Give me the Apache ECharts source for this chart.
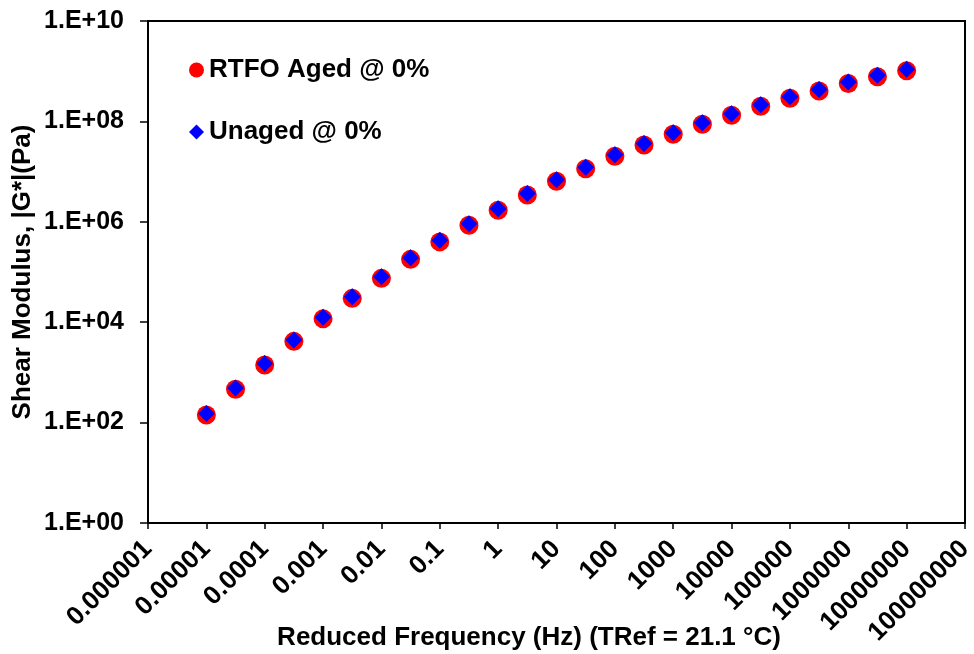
<!DOCTYPE html>
<html>
<head>
<meta charset="utf-8">
<title>Shear Modulus vs Reduced Frequency</title>
<script src="https://cdn.jsdelivr.net/npm/echarts@6/dist/echarts.min.js"></script>
<style>
  html, body { margin: 0; padding: 0; background: #fff; }
  #chart { width: 974px; height: 654px; }
</style>
</head>
<body>
<div id="chart"></div>
<script>
// Reduced frequency (Hz), half-decade steps of the master curve
const frequencyHz = [0.00001, 0.0000316, 0.0001, 0.000316, 0.001, 0.00316, 0.01, 0.0316, 0.1, 0.316,
  1, 3.16, 10, 31.6, 100, 316, 1000, 3160, 10000, 31600, 100000, 316000, 1000000, 3160000, 10000000];

// |G*| (Pa) for each binder condition
const rtfoAged = [142, 460, 1410, 4150, 11650, 29850, 74700, 178700, 398000, 851000,
  1.70e6, 3.42e6, 6.41e6, 1.14e7, 2.02e7, 3.39e7, 5.54e7, 8.77e7, 1.33e8, 2.01e8,
  2.89e8, 4.04e8, 5.67e8, 7.76e8, 1.02e9];
const unaged = [152, 491, 1510, 4440, 12500, 32000, 80000, 191500, 427000, 912000,
  1.82e6, 3.66e6, 6.87e6, 1.22e7, 2.16e7, 3.63e7, 5.94e7, 9.40e7, 1.42e8, 2.15e8,
  3.10e8, 4.33e8, 6.08e8, 8.32e8, 1.09e9];

const seriesNames = ['RTFO Aged @ 0%', 'Unaged @ 0%'];

// Tick labels, keyed by decade exponent
const xTickLabels = {
  '-6': '0.000001', '-5': '0.00001', '-4': '0.0001', '-3': '0.001', '-2': '0.01', '-1': '0.1',
  '0': '1', '1': '10', '2': '100', '3': '1000', '4': '10000', '5': '100000',
  '6': '1000000', '7': '10000000', '8': '100000000'
};
const yTickLabels = {
  '0': '1.E+00', '2': '1.E+02', '4': '1.E+04', '6': '1.E+06', '8': '1.E+08', '10': '1.E+10'
};

const xTitle = 'Reduced Frequency (Hz) (TRef = 21.1 \u00B0C)';
const yTitle = 'Shear Modulus, |G*|(Pa)';

const FONT = '"Liberation Sans", Arial, sans-serif';

const pairs = (ys) => frequencyHz.map((f, i) => [f, ys[i]]);
const exponentOf = (v) => String(Math.round(Math.log10(v)));

const chart = echarts.init(document.getElementById('chart'), null, { renderer: 'canvas' });

chart.setOption({
  animation: false,
  backgroundColor: '#ffffff',
  grid: {
    left: 148, top: 21, width: 817, height: 502,
    containLabel: false,
    outerBoundsMode: 'none',
    show: true, borderColor: '#000000', borderWidth: 2, backgroundColor: 'transparent'
  },
  legend: {
    orient: 'vertical',
    left: 189, top: 57,
    padding: 0,
    itemWidth: 15, itemHeight: 15,
    itemGap: 36,
    textStyle: { fontFamily: FONT, fontWeight: 'bold', fontSize: 26, color: '#000', lineHeight: 25 },
    data: [
      { name: seriesNames[0], icon: 'circle' },
      { name: seriesNames[1], icon: 'diamond' }
    ]
  },
  xAxis: {
    type: 'log',
    logBase: 10,
    min: 0.000001, max: 100000000,
    interval: 1,
    splitNumber: 14,
    axisLine: { show: true, lineStyle: { color: '#000', width: 2 } },
    axisTick: { show: true, inside: false, length: 6, lineStyle: { color: '#000', width: 1.5 } },
    minorTick: { show: false },
    splitLine: { show: false },
    axisLabel: {
      rotate: 45,
      margin: 22,
      fontFamily: FONT, fontWeight: 'bold', fontSize: 26, color: '#000',
      formatter: (v) => xTickLabels[exponentOf(v)] || ''
    }
  },
  yAxis: {
    type: 'log',
    logBase: 10,
    min: 1, max: 10000000000,
    interval: 2,
    splitNumber: 5,
    axisLine: { show: true, lineStyle: { color: '#000', width: 2 } },
    axisTick: { show: true, inside: false, length: 8, lineStyle: { color: '#000', width: 1.5 } },
    minorTick: { show: false },
    splitLine: { show: false },
    axisLabel: {
      margin: 24,
      fontFamily: FONT, fontWeight: 'bold', fontSize: 25, color: '#000',
      formatter: (v) => yTickLabels[exponentOf(v)] || ''
    }
  },
  graphic: [
    {
      // x-axis title
      type: 'text',
      x: 529, y: 638,
      style: {
        text: xTitle,
        fontFamily: FONT, fontWeight: 'bold', fontSize: 26, fill: '#000',
        align: 'center', verticalAlign: 'middle'
      }
    },
    {
      // y-axis title, reading bottom to top
      type: 'text',
      x: 23, y: 272,
      rotation: Math.PI / 2,
      style: {
        text: yTitle,
        fontFamily: FONT, fontWeight: 'bold', fontSize: 26, fill: '#000',
        align: 'center', verticalAlign: 'middle'
      }
    }
  ],
  series: [
    {
      name: seriesNames[0],
      type: 'scatter',
      symbol: 'circle',
      symbolSize: 19,
      itemStyle: { color: '#ff0000', opacity: 1 },
      data: pairs(rtfoAged),
      z: 2
    },
    {
      name: seriesNames[1],
      type: 'scatter',
      symbol: 'diamond',
      symbolSize: 17,
      itemStyle: { color: '#0000ff', opacity: 1 },
      data: pairs(unaged),
      z: 3
    }
  ]
});
</script>
</body>
</html>
